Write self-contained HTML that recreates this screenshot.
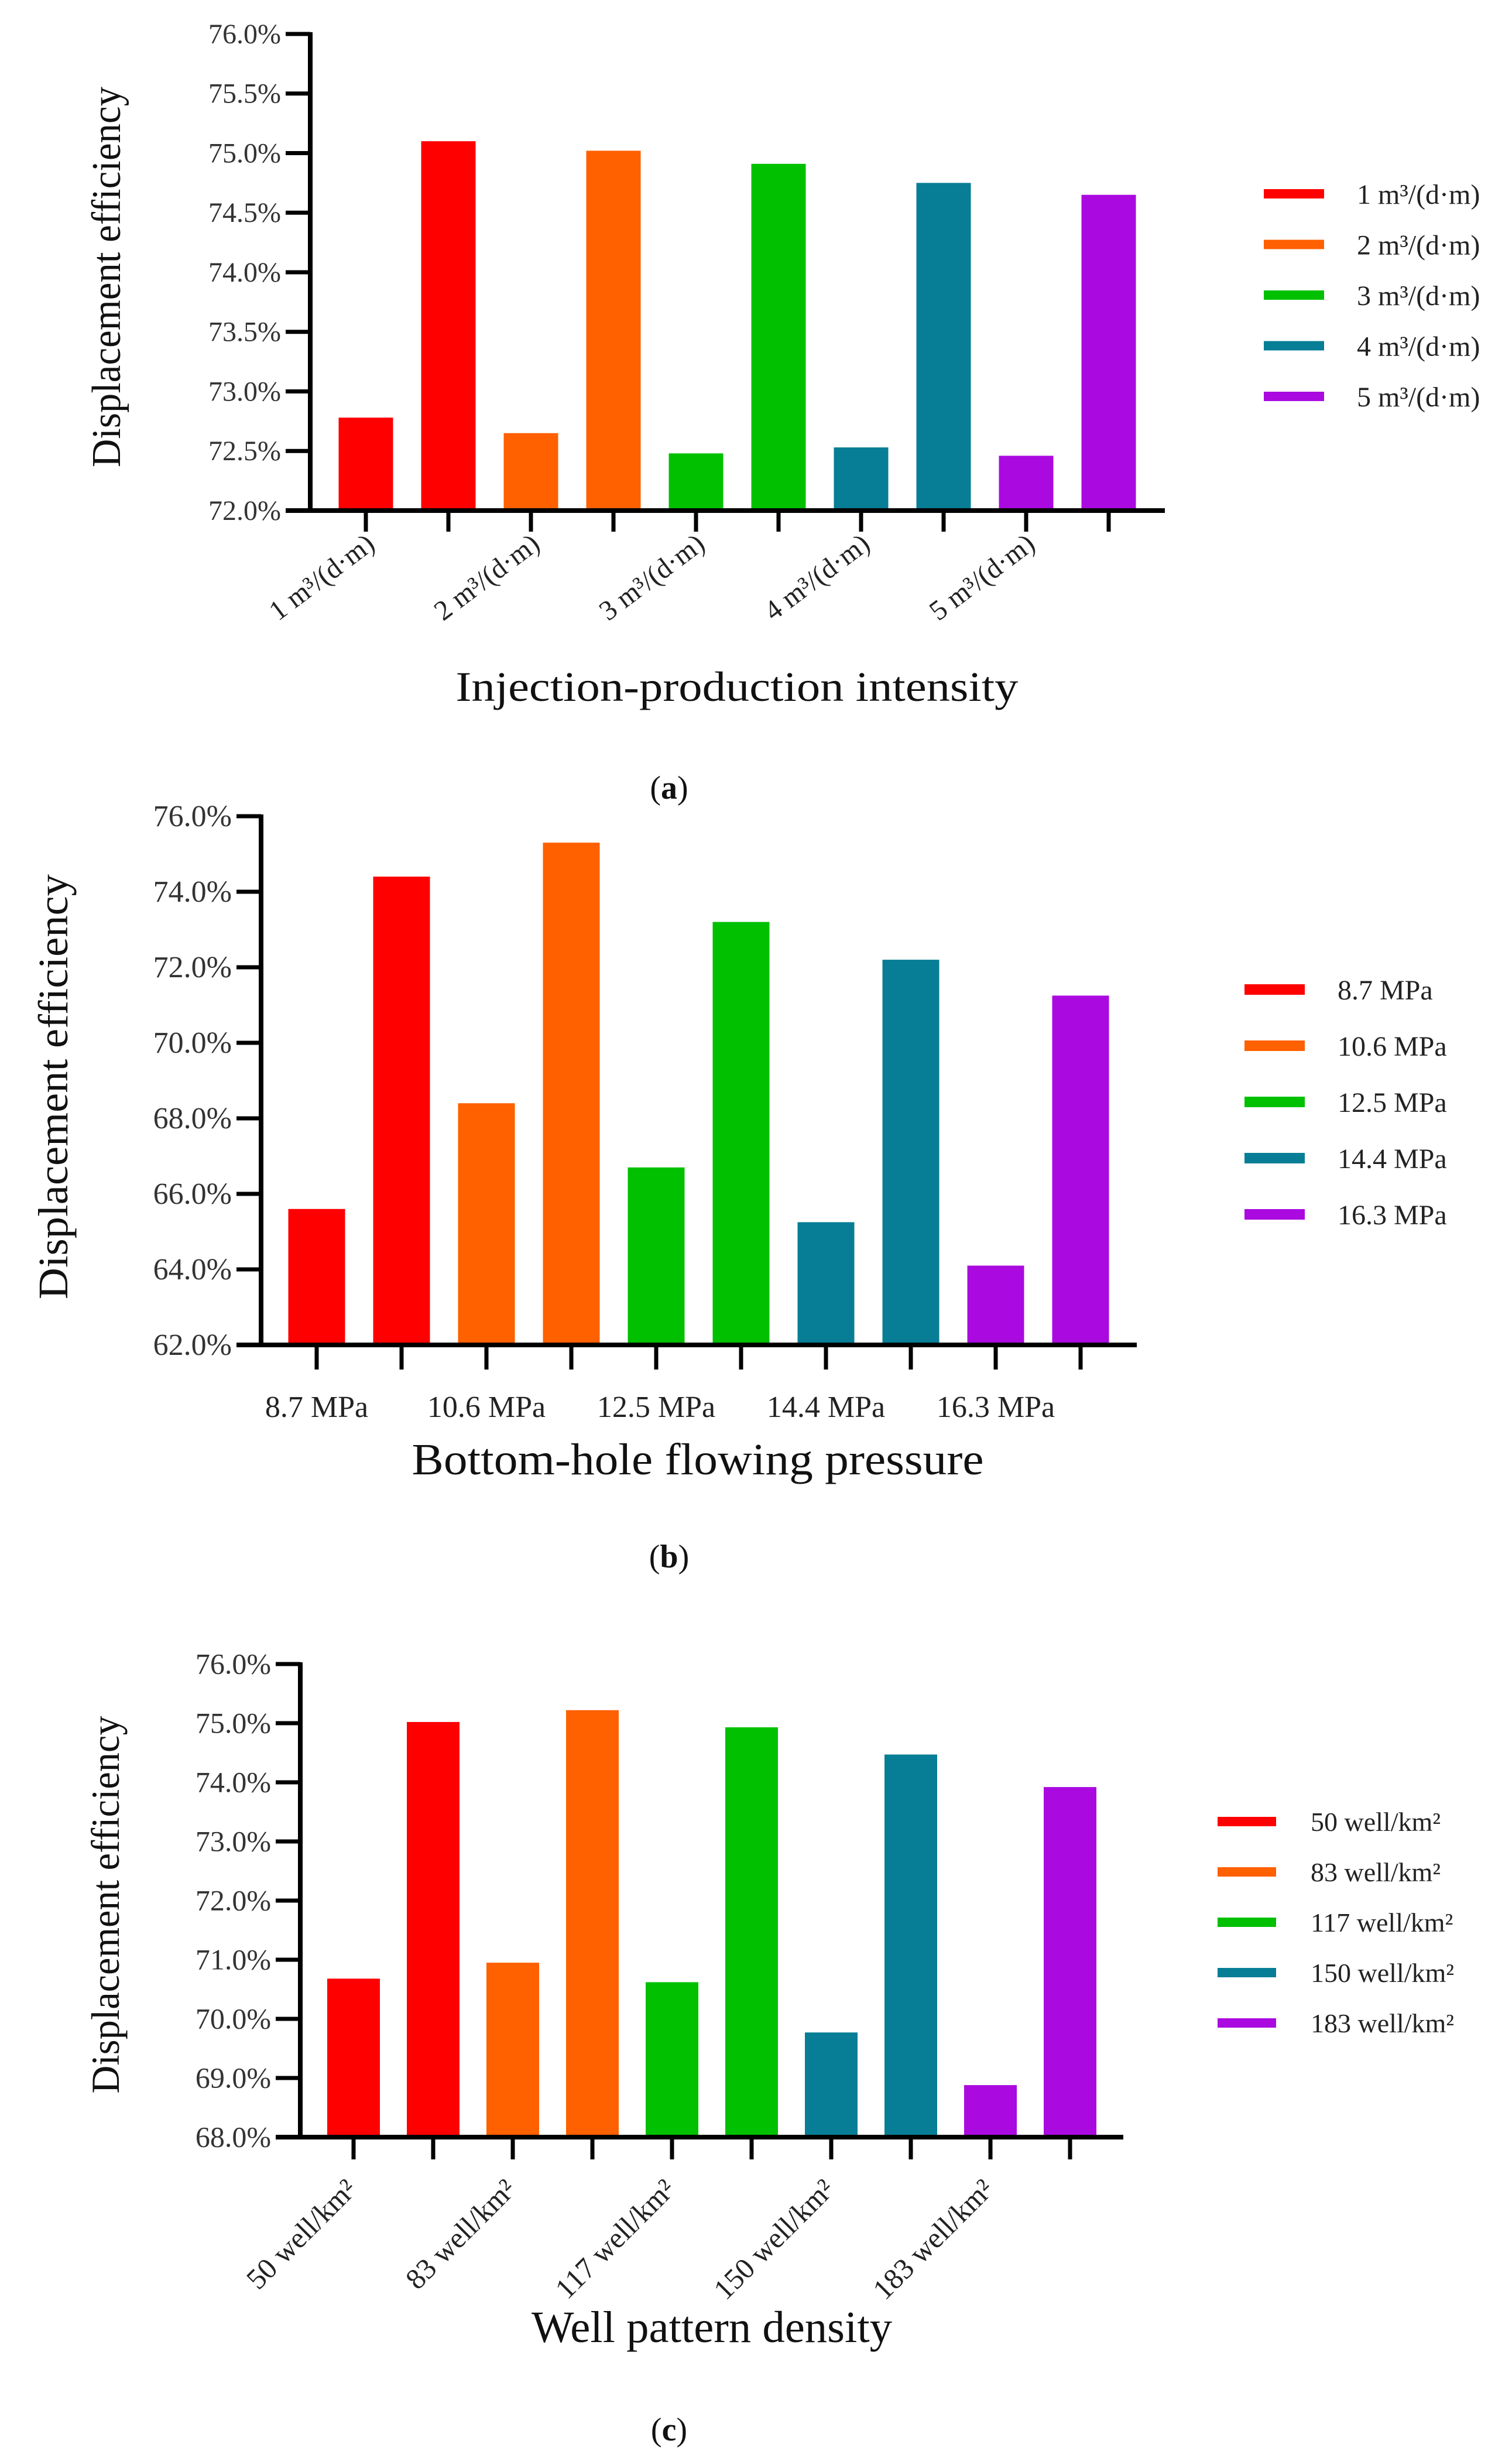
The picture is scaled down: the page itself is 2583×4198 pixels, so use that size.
<!DOCTYPE html>
<html><head><meta charset="utf-8"><style>
html,body{margin:0;padding:0;background:#fff;}
svg{display:block;font-family:"Liberation Serif",serif;}
</style></head><body>
<svg id="fig" width="2583" height="4198" viewBox="0 0 2583 4198" xmlns="http://www.w3.org/2000/svg">
<rect width="2583" height="4198" fill="#fff"/>
</svg>
<script>
// ---- data ----
const colors = ["#ff0000","#ff6000","#00c000","#077e95","#aa0ae0"];
const catsA = ["1 m³/(d·m)","2 m³/(d·m)","3 m³/(d·m)","4 m³/(d·m)","5 m³/(d·m)"];
const lowA = [72.78, 72.65, 72.48, 72.53, 72.46];
const highA = [75.10, 75.02, 74.91, 74.75, 74.65];
const ticksA = [72.0,72.5,73.0,73.5,74.0,74.5,75.0,75.5,76.0];

const catsB = ["8.7 MPa","10.6 MPa","12.5 MPa","14.4 MPa","16.3 MPa"];
const lowB = [65.6, 68.4, 66.7, 65.25, 64.1];
const highB = [74.4, 75.3, 73.2, 72.2, 71.25];
const ticksB = [62,64,66,68,70,72,74,76];

const catsC = ["50 well/km²","83 well/km²","117 well/km²","150 well/km²","183 well/km²"];
const lowC = [70.68, 70.95, 70.62, 69.77, 68.88];
const highC = [75.02, 75.22, 74.93, 74.47, 73.92];
const ticksC = [68,69,70,71,72,73,74,75,76];

const NS = "http://www.w3.org/2000/svg";
const svg = document.getElementById('fig');
function mk(tag, attrs, parent){
  const e = document.createElementNS(NS, tag);
  for (const k in attrs) e.setAttribute(k, attrs[k]);
  (parent||svg).appendChild(e);
  return e;
}

function drawChart(o){
  const g = mk('g', {});
  
  
  const ymin = o.ticks[0], ymax = o.ticks[o.ticks.length-1];
  const y = v => o.y0 - (v - ymin) / (ymax - ymin) * (o.y0 - o.y1);
  const x = i => o.c0 + i * o.pitch;
  for (let k = 0; k < o.cats.length; k++) {
    [o.low[k], o.high[k]].forEach((v, j) => {
      const i = 2*k + j;
      const r = mk('rect', {x: x(i) - o.bw/2, y: y(v), width: o.bw, height: o.y0 - y(v), fill: colors[k]}, g);
      
      
    });
  }
  const ya = mk('line', {x1: o.ax, y1: y(ymax) - 3, x2: o.ax, y2: o.y0 + 4, stroke: '#000', 'stroke-width': 8}, g);
  
  
  const xa = mk('line', {x1: o.ax - 42, y1: o.y0, x2: o.xend, y2: o.y0, stroke: '#000', 'stroke-width': 8}, g);
  
  
  o.ticks.forEach(t => {
    mk('line', {x1: o.ax - 42, y1: y(t), x2: o.ax, y2: y(t), stroke: '#000', 'stroke-width': 7}, g);
    const tx = mk('text', {x: o.ax - 50, y: y(t) + o.tfs*0.33, 'font-size': o.tfs, 'text-anchor': 'end', fill: '#333'}, g);
    tx.textContent = t.toFixed(1) + '%';
    
    
  });
  for (let i = 0; i < o.cats.length*2; i++) {
    mk('line', {x1: x(i), y1: o.y0, x2: x(i), y2: o.y0 + o.tl, stroke: '#000', 'stroke-width': 7}, g);
  }
  o.cats.forEach((c, k) => {
    const cx = x(2*k);
    let t;
    if (o.rot) {
      const ex = cx + o.rdx, ey = o.ly;
      t = mk('text', {x: ex, y: ey, 'font-size': o.lfs, 'text-anchor': 'end', fill: '#222', transform: `rotate(${-o.rot} ${ex} ${ey})`}, g);
    } else {
      t = mk('text', {x: cx, y: o.ly, 'font-size': o.lfs, 'text-anchor': 'middle', fill: '#222'}, g);
    }
    t.textContent = c;
    
    
  });
  const xt = mk('text', {x: o.xtx, y: o.xty, 'font-size': o.xtfs, 'text-anchor': 'middle', fill: '#111', textLength: o.xtw, lengthAdjust: 'spacingAndGlyphs'}, g);
  xt.textContent = o.xtitle;
  
  
  const yt = mk('text', {x: o.ytx, y: o.yty, 'font-size': o.ytfs, 'text-anchor': 'middle', fill: '#111', textLength: o.ytw, lengthAdjust: 'spacingAndGlyphs', transform: `rotate(-90 ${o.ytx} ${o.yty})`}, g);
  yt.textContent = 'Displacement efficiency';
  
  
  o.cats.forEach((c, k) => {
    const ly = o.legY[0] + k * o.legStep;
    const sw = mk('rect', {x: o.legX, y: ly - o.swh/2, width: o.sww, height: o.swh, fill: colors[k]}, g);
    
    
    const lt = mk('text', {x: o.legTX, y: ly + o.legfs*0.35, 'font-size': o.legfs, fill: '#222'}, g);
    lt.textContent = c;
    
    
  });
  const pl = mk('text', {x: 1143, y: o.ply, 'font-size': 56, 'text-anchor': 'middle', fill: '#111'}, g);
  pl.innerHTML = '(<tspan font-weight="bold">' + o.panel + '</tspan>)';
  
  
}

drawChart({name:'chart-a', cats:catsA, low:lowA, high:highA, ticks:ticksA,
  y0:872, y1:58, ax:530, xend:1990, c0:625, pitch:141, bw:93, tl:36, tfs:48,
  rot:37, rdx:18, ly:935, lfs:48,
  xtitle:'Injection-production intensity', xtx:1259, xty:1197, xtfs:72, xtw:961,
  ytx:205, yty:473, ytfs:70, ytw:650,
  legX:2159, sww:103, swh:16, legY:[331], legStep:86.5, legTX:2318, legfs:48, ply:1364, panel:'a'});

drawChart({name:'chart-b', cats:catsB, low:lowB, high:highB, ticks:ticksB,
  y0:2297, y1:1394, ax:446, xend:1942, c0:541, pitch:145, bw:97, tl:42, tfs:52,
  rot:0, ly:2420, lfs:52,
  xtitle:'Bottom-hole flowing pressure', xtx:1192, xty:2518, xtfs:76, xtw:977,
  ytx:115, yty:1856, ytfs:72, ytw:726,
  legX:2126, sww:103, swh:18, legY:[1690], legStep:96, legTX:2285, legfs:48, ply:2677, panel:'b'});

drawChart({name:'chart-c', cats:catsC, low:lowC, high:highC, ticks:ticksC,
  y0:3650, y1:2842, ax:513, xend:1919, c0:604, pitch:136, bw:90, tl:38, tfs:50,
  rot:45, rdx:8, ly:3742, lfs:50,
  xtitle:'Well pattern density', xtx:1216, xty:4000, xtfs:76, xtw:616,
  ytx:203, yty:3253, ytfs:68, ytw:645,
  legX:2080, sww:100, swh:16, legY:[3111], legStep:86, legTX:2239, legfs:46, ply:4168, panel:'c'});
</script>
</body></html>
